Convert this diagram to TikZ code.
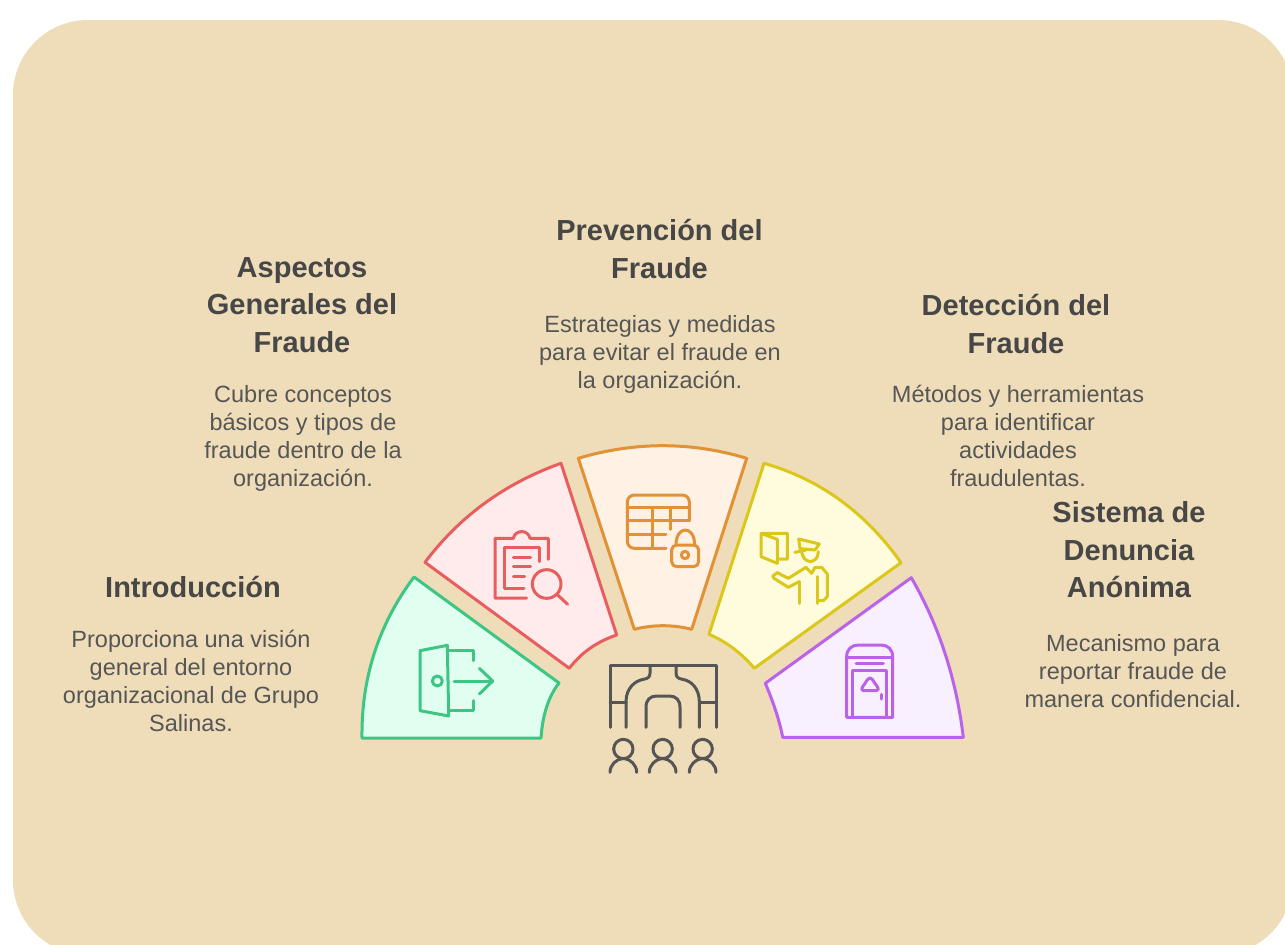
\documentclass[tikz,border=0pt]{standalone}
\usepackage{fontspec}
\setmainfont{Liberation Sans}
\definecolor{bgc}{HTML}{EEDDB8}
\definecolor{ttl}{HTML}{474747}
\definecolor{dsc}{HTML}{565656}
\definecolor{grS}{HTML}{3CC583}\definecolor{grF}{HTML}{E1FFF0}
\definecolor{reS}{HTML}{E85E5E}\definecolor{reF}{HTML}{FFEBEB}
\definecolor{orS}{HTML}{E19136}\definecolor{orF}{HTML}{FFF1E3}
\definecolor{yeS}{HTML}{DBC71A}\definecolor{yeF}{HTML}{FFFCDD}
\definecolor{puS}{HTML}{BB62EA}\definecolor{puF}{HTML}{F8EFFF}
\definecolor{drk}{HTML}{555555}
% smooth arc from (x0,y0) through (mx,my) to (x1,y1)
\newcommand\arcthru[6]{(#1,#2) .. controls ({#1+(4*#3-3*#1-#5)/3},{#2+(4*#4-3*#2-#6)/3}) and ({#5+(4*#3-3*#5-#1)/3},{#6+(4*#4-3*#6-#2)/3}) .. (#5,#6)}
\tikzset{
  x=1pt,y=-1pt,
  wedge/.style={line width=3pt,line join=round},
  ico/.style={line width=3pt,line cap=round,line join=round},
  ttlbox/.style={align=center,text=ttl,inner sep=0pt,font=\fontsize{29}{37.5}\selectfont\bfseries},
  dscbox/.style={align=center,text=dsc,inner sep=0pt,font=\fontsize{23.5}{28}\selectfont},
}
\begin{document}
\begin{tikzpicture}
\useasboundingbox (0,0) rectangle (1285,945);
\fill[white] (0,0) rectangle (1285,945);
\begin{scope}
\clip (0,0) rectangle (1285,945);
\fill[bgc,rounded corners=75pt] (13,20) rectangle (1293,955);
\end{scope}

% wedges
\draw[wedge,draw=grS,fill=grF] \arcthru{362}{738}{374.4}{652.8}{414}{577} -- \arcthru{559}{683}{546.7}{706.7}{541}{738} -- cycle;
\draw[wedge,draw=reS,fill=reF] \arcthru{425}{562.3}{485}{503}{561}{463.3} -- \arcthru{616.7}{635}{590}{648.3}{569.3}{668.3} -- cycle;
\draw[wedge,draw=orS,fill=orF] \arcthru{578.3}{458.3}{662.7}{445.7}{746.7}{458.3} -- \arcthru{691.7}{629.3}{663}{625.7}{634.3}{629.3} -- cycle;
\draw[wedge,draw=yeS,fill=yeF] \arcthru{764}{463.3}{840}{500}{901}{562.7} -- \arcthru{754.3}{668.3}{733.3}{648.3}{709}{634.3} -- cycle;
\draw[wedge,draw=puS,fill=puF] \arcthru{911.3}{577.7}{945}{653.3}{963.3}{737.3} -- \arcthru{782.7}{737.3}{776}{711.7}{765.3}{683.3} -- cycle;

% door icon
\begin{scope}[shift={(350,560)},scale=1/3,ico,draw=grS]
\draw (210,272) -- (292,256) -- (296,468) -- (210,452) -- cycle;
\draw (262,363) circle[radius=15];
\draw (296,272) -- (370,272) -- (370,302);
\draw (296,452) -- (370,452) -- (370,422);
\draw (312,363) -- (428,363);
\draw (388,325) -- (428,363) -- (388,402);
\end{scope}

% clipboard icon
\begin{scope}[shift={(420,440)},scale=1/3,ico,draw=reS]
\draw (320,474) -- (225,474) -- (225,295) -- (280,295) .. controls (285,268) and (325,268) .. (330,295) -- (385,295) -- (385,358);
\draw (312,446) -- (252,446) -- (252,322) -- (358,322) -- (358,365);
\draw (280,352) -- (332,352);
\draw (280,380) -- (332,380);
\draw (280,408) -- (314,408);
\draw (380,432) circle[radius=43];
\draw (413,465) -- (443,493);
\end{scope}

% table and lock icon
\begin{scope}[shift={(420,440)},scale=1/3,ico,draw=orS]
\draw[rounded corners=7pt] (738,325) -- (622,325) -- (622,165) -- (808,165) -- (808,242);
\draw (622,203) -- (808,203);
\draw (622,242) -- (808,242);
\draw (622,284) -- (738,284);
\draw (697,203) -- (697,325);
\draw (752,203) -- (752,268);
\draw[rounded corners=5pt] (755,315) rectangle (836,380);
\draw (768,315) .. controls (768,255) and (824,255) .. (824,315);
\draw (795,345) circle[radius=11];
\end{scope}

% officer icon
\begin{scope}[shift={(700,450)},scale=1/3,ico,draw=yeS]
\draw (232,327) -- (262,327) -- (262,250) -- (183,250) -- (183,320) -- (232,340) -- (232,268) -- (183,250);
\draw (296,267) -- (358,282) -- (345,300) -- (300,296) -- cycle;
\draw (285,307) -- (318,300);
\draw (305,300) .. controls (305,345) and (355,345) .. (355,305);
\draw (232,368) -- (265,385) -- (318,352) -- (335,370) -- (345,352) -- (365,352) -- (382,372) -- (382,440) -- (370,452) -- (352,452);
\draw (352,380) -- (352,460);
\draw (297,395) -- (297,460);
\draw (297,395) -- (265,412) -- (222,385) -- (218,378) -- (232,368);
\end{scope}

% booth icon
\begin{scope}[shift={(700,450)},scale=1/3,ico,draw=puS]
\draw (440,802) -- (440,620) .. controls (440,598) and (455,585) .. (475,585) -- (543,585) .. controls (563,585) and (578,598) .. (578,620) -- (578,802) -- cycle;
\draw (440,622) -- (578,622);
\draw (468,640) -- (550,640);
\draw (458,802) -- (458,660) -- (560,660) -- (560,802);
\draw[rounded corners=4pt] (510,678) -- (540,722) -- (480,722) -- cycle;
\draw (544,733) -- (544,747);
\end{scope}

% central icon
\begin{scope}[shift={(590,650)},scale=1/3,ico,draw=drk]
\draw (60,232) -- (60,47) -- (378,47) -- (378,232);
\draw (108,232) -- (108,155) .. controls (108,115) and (135,92) .. (160,88) .. controls (172,86) and (180,82) .. (180,70) -- (180,50);
\draw (328,232) -- (328,155) .. controls (328,115) and (303,92) .. (278,88) .. controls (266,86) and (258,82) .. (258,70) -- (258,50);
\draw (60,158) -- (108,158);
\draw (328,158) -- (378,158);
\draw (168,232) -- (168,172) .. controls (168,150) and (180,138) .. (200,138) -- (238,138) .. controls (258,138) and (270,150) .. (270,172) -- (270,232);
\foreach \cx in {100,218,338}{
  \draw (\cx,297) circle[radius=29];
  \draw (\cx-40,367) .. controls (\cx-40,345) and (\cx-22,327) .. (\cx,325) .. controls (\cx+22,327) and (\cx+40,345) .. (\cx+40,367);
}
\end{scope}

% texts
\node[ttlbox] (t1) at (193,587) {Introducción};
\node[ttlbox] (t2) at (302,305) {Aspectos\\Generales del\\Fraude};
\node[ttlbox] (t3) at (659.5,249) {Prevención del\\Fraude};
\node[ttlbox] (t4) at (1016,324) {Detección del\\Fraude};
\node[ttlbox] (t5) at (1129,550) {Sistema de\\Denuncia\\Anónima};
\node[dscbox] (d1) at (191,680.5) {Proporciona una visión\\general del entorno\\organizacional de Grupo\\Salinas.};
\node[dscbox] (d2) at (303,438) {Cubre conceptos\\básicos y tipos de\\fraude dentro de la\\organización.};
\node[dscbox] (d3) at (660,354) {Estrategias y medidas\\para evitar el fraude en\\la organización.};
\node[dscbox] (d4) at (1018,436) {Métodos y herramientas\\para identificar\\actividades\\fraudulentas.};
\node[dscbox] (d5) at (1133,671.5) {Mecanismo para\\reportar fraude de\\manera confidencial.};
\end{tikzpicture}
\end{document}
